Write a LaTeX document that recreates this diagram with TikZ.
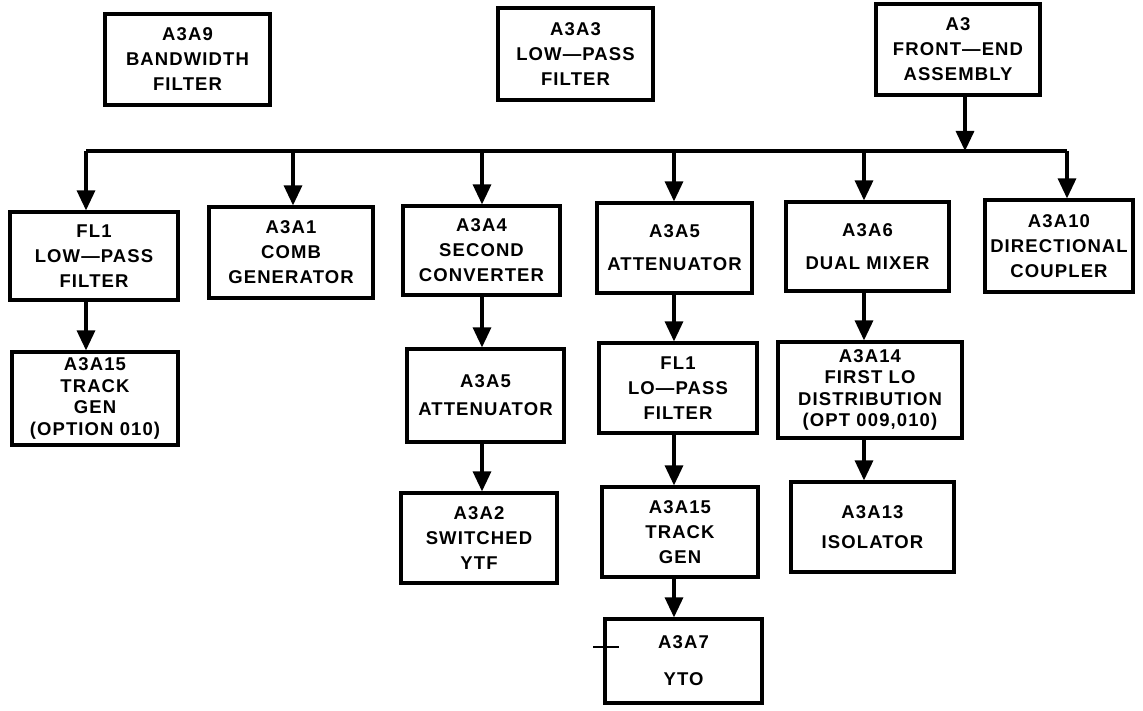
\documentclass[tikz,border=0pt]{standalone}
\usepackage{fontspec}
\setmainfont{Liberation Sans}[LetterSpace=6]
\usetikzlibrary{arrows.meta}
\begin{document}
\begin{tikzpicture}[x=1pt,y=-1pt,
  box/.style={draw,line width=3.2pt,inner sep=0pt,align=center,font=\fontsize{18.5}{25}\selectfont\bfseries},
  tight/.style={font=\fontsize{18.5}{21.5}\selectfont\bfseries},
  arr/.style={line width=3.2pt,-{Triangle[length=20pt,width=18pt]}},
  bus/.style={line width=3.2pt}]
\useasboundingbox (0,0) rectangle (1143,711);
% top row
\node[box,minimum width=165pt,minimum height=91pt] (a3a9) at (187.5,59.5) {A3A9\\BANDWIDTH\\FILTER};
\node[box,minimum width=155pt,minimum height=92pt] (a3a3) at (575.5,54) {A3A3\\LOW---PASS\\FILTER};
\node[box,minimum width=164pt,minimum height=91pt] (a3) at (958,49.5) {A3\\FRONT---END\\ASSEMBLY};
% second row
\node[box,minimum width=168pt,minimum height=88pt] (fl1) at (94,256) {FL1\\LOW---PASS\\FILTER};
\node[box,minimum width=164pt,minimum height=91pt] (a3a1) at (291,252.5) {A3A1\\COMB\\GENERATOR};
\node[box,minimum width=157pt,minimum height=89pt] (a3a4) at (481.5,250.5) {A3A4\\SECOND\\CONVERTER};
\node[box,minimum width=155pt,minimum height=90pt] (a3a5a) at (674.5,248) {A3A5\\[8pt]ATTENUATOR};
\node[box,minimum width=163pt,minimum height=89pt] (a3a6) at (867.5,246.5) {A3A6\\[8pt]DUAL MIXER};
\node[box,minimum width=148pt,minimum height=92pt] (a3a10) at (1059,246) {A3A10\\DIRECTIONAL\\COUPLER};
% third row
\node[box,tight,minimum width=166pt,minimum height=93pt] (a3a15l) at (95,398.5) {A3A15\\TRACK\\GEN\\(OPTION 010)};
\node[box,minimum width=157pt,minimum height=93pt] (a3a5b) at (485.5,395.5) {A3A5\\[3pt]ATTENUATOR};
\node[box,minimum width=158pt,minimum height=90pt] (fl1b) at (678,388) {FL1\\LO---PASS\\FILTER};
\node[box,tight,minimum width=184pt,minimum height=96pt] (a3a14) at (870,390) {A3A14\\FIRST LO\\DISTRIBUTION\\(OPT 009,010)};
% fourth row
\node[box,minimum width=156pt,minimum height=90pt] (a3a2) at (479,538) {A3A2\\SWITCHED\\YTF};
\node[box,minimum width=156pt,minimum height=90pt] (a3a15b) at (680,532) {A3A15\\TRACK\\GEN};
\node[box,minimum width=163pt,minimum height=90pt] (a3a13) at (872.5,527) {A3A13\\[5pt]ISOLATOR};
% fifth row
\node[box,minimum width=157pt,minimum height=84pt] (a3a7) at (683.5,661) {A3A7\\[12pt]YTO};
% bus
\coordinate (t0) at (965,151);
\coordinate (b1) at (86,151);
\coordinate (b2) at (293,151);
\coordinate (b3) at (482,151);
\coordinate (b4) at (674,151);
\coordinate (b5) at (864,151);
\coordinate (b6) at (1067,151);
\draw[bus] (b1) -- (b6);
\draw[arr] (a3.south -| t0) -- (t0);
\draw[arr] (b1) -- (fl1.north -| b1);
\draw[arr] (b2) -- (a3a1.north -| b2);
\draw[arr] (b3) -- (a3a4.north -| b3);
\draw[arr] (b4) -- (a3a5a.north -| b4);
\draw[arr] (b5) -- (a3a6.north -| b5);
\draw[arr] (b6) -- (a3a10.north -| b6);
% chains
\draw[arr] (fl1.south -| b1) -- (a3a15l.north -| b1);
\draw[arr] (a3a4.south -| b3) -- (a3a5b.north -| b3);
\draw[arr] (a3a5b.south -| b3) -- (a3a2.north -| b3);
\draw[arr] (a3a5a.south -| b4) -- (fl1b.north -| b4);
\draw[arr] (fl1b.south -| b4) -- (a3a15b.north -| b4);
\draw[arr] (a3a15b.south -| b4) -- (a3a7.north -| b4);
\draw[arr] (a3a6.south -| b5) -- (a3a14.north -| b5);
\draw[arr] (a3a14.south -| b5) -- (a3a13.north -| b5);
% small tick mark
\coordinate (tk) at (593,647);
\draw[line width=1.2pt] (tk) -- (tk -| a3a7.west) -- ++(16,0);
\end{tikzpicture}
\end{document}
